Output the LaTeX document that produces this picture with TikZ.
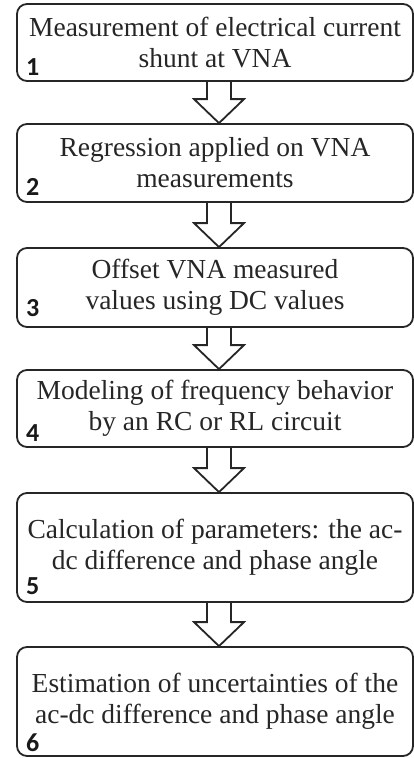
\documentclass[tikz,border=0pt]{standalone}
\usepackage{fontspec}
\setmainfont{Liberation Serif}
\newfontfamily\numfont{Carlito}
\usetikzlibrary{calc}
\begin{document}
\begin{tikzpicture}[x=1pt,y=1pt,
  stepbox/.style={draw=black!85, line width=1.8pt, rounded corners=10pt, minimum width=396pt,
    align=center, inner sep=0pt, text=black!85, font=\fontsize{27.5}{31}\selectfont},
  numlabel/.style={anchor=base west, inner sep=0pt, text=black!90, font=\numfont\bfseries\fontsize{26}{26}\selectfont},
  bigarrow/.style={draw=black!85, line width=1.8pt, line join=miter}]
\useasboundingbox (0,0) rectangle (414,-758);
\node[stepbox, minimum height=77pt] (b1) at (215,-42.5) {Measurement of electrical current\\shunt at VNA};
\node[stepbox, minimum height=78pt] (b2) at (215,-163) {Regression applied on VNA\\measurements};
\node[stepbox, minimum height=79pt] (b3) at (215,-287.5) {Offset VNA measured\\values using DC values};
\node[stepbox, minimum height=77pt] (b4) at (215,-408.5) {Modeling of frequency behavior\\by an RC or RL circuit};
\node[stepbox, minimum height=109pt] (b5) at (215,-547.5) {Calculation of parameters: the ac-\\dc difference and phase angle};
\node[stepbox, minimum height=109pt] (b6) at (215,-701.5) {Estimation of uncertainties of the\\ac-dc difference and phase angle};
\node[numlabel] (n1) at (26,-75) {1};
\node[numlabel] (n2) at (26,-195) {2};
\node[numlabel] (n3) at (26,-316) {3};
\node[numlabel] (n4) at (26,-441) {4};
\node[numlabel] (n5) at (26,-594) {5};
\node[numlabel] (n6) at (26,-751) {6};
\foreach \a/\b in {b1/b2,b2/b3,b3/b4,b4/b5,b5/b6}{
  \draw[bigarrow] ($(\a.south)+(-8,0)$) -- ($(\b.north)+(-8,24)$) -- ($(\b.north)+(-21,24)$)
    -- ($(\b.north)+(4,0)$) -- ($(\b.north)+(29,24)$) -- ($(\b.north)+(16,24)$) -- ($(\a.south)+(16,0)$);
}
\end{tikzpicture}
\end{document}
